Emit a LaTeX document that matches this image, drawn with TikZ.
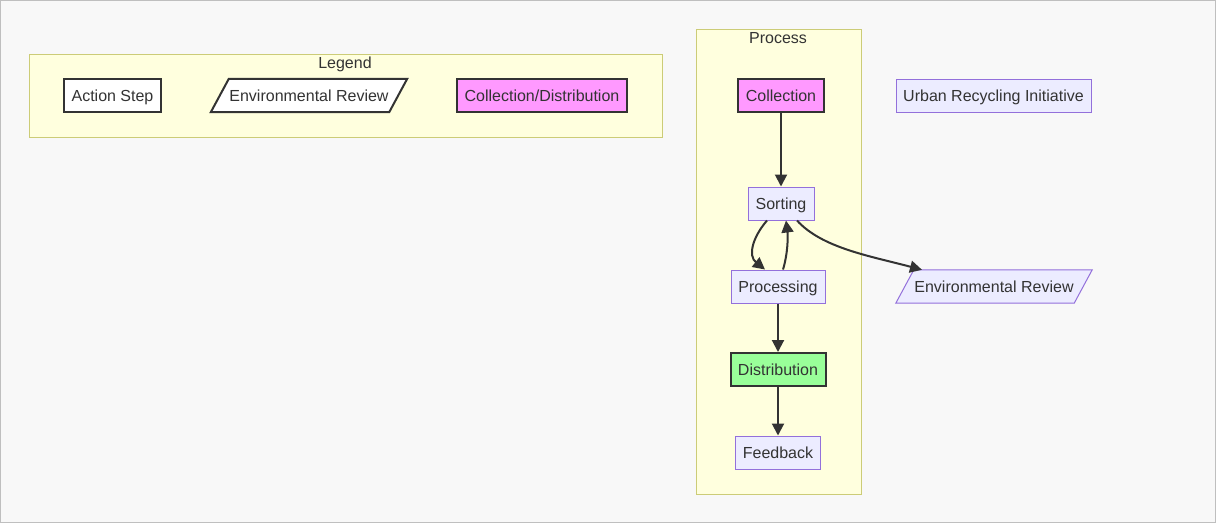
\documentclass[tikz,border=0pt]{standalone}
\usepackage{fontspec}
\setmainfont{Liberation Sans}
\usetikzlibrary{arrows.meta}
\definecolor{bg}{HTML}{F8F8F8}
\definecolor{clfill}{HTML}{FFFFDE}
\definecolor{cldraw}{HTML}{CCCC77}
\definecolor{txt}{HTML}{333333}
\definecolor{pinkf}{HTML}{FF99FF}
\definecolor{greenf}{HTML}{99FF99}
\definecolor{lavf}{HTML}{ECECFF}
\definecolor{lavd}{HTML}{9370DB}
\tikzset{
  x=1pt,y=-1pt,
  every node/.style={font=\fontsize{16}{19}\selectfont, text=txt, inner sep=0pt, text height=11.5pt, text depth=0pt},
  cluster/.style={draw=cldraw, fill=clfill, line width=1pt},
  plainbox/.style={draw=txt, fill=white, line width=2pt, minimum height=33pt},
  hotbox/.style={draw=txt, fill=pinkf, line width=2pt, minimum height=33pt},
  greenbox/.style={draw=txt, fill=greenf, line width=2pt, minimum height=33pt},
  lavbox/.style={draw=lavd, fill=lavf, line width=1pt, minimum height=33pt},
  ghost/.style={minimum height=33pt},
  conn/.style={draw=txt, line width=2pt, -{Triangle[length=12pt,width=12pt]}},
}
\begin{document}
\begin{tikzpicture}
\useasboundingbox (0,0) rectangle (1216,523);
\fill[bg] (0,0) rectangle (1216,523);
\draw[gray!50, line width=1pt] (0.5,0.5) rectangle (1215.5,522.5);
% clusters
\draw[cluster] (29,54) rectangle (662,137);
\node (legendt) at (345,63) {Legend};
\draw[cluster] (696,29) rectangle (861,494);
\node (processt) at (778,38) {Process};
% legend
\node[plainbox, minimum width=97pt] (la) at (112.5,95.5) {Action Step};
\node[ghost, minimum width=178pt] (le) at (309,95.5) {Environmental Review};
\draw[txt, fill=white, line width=2pt] ([xshift=9pt]le.north west) -- ([xshift=9pt]le.north east) -- ([xshift=-9pt]le.south east) -- ([xshift=-9pt]le.south west) -- cycle;
\node at (le.center) {Environmental Review};
\node[hotbox, minimum width=170pt] (lc) at (542,95.5) {Collection/Distribution};
% process
\node[hotbox, minimum width=86pt] (col) at (781,95.5) {Collection};
\node[lavbox, minimum width=66pt] (sor) at (781,203.5) {Sorting};
\node[lavbox, minimum width=94pt] (pro) at (778,286.5) {Processing};
\node[greenbox, minimum width=95pt] (dis) at (778,369.5) {Distribution};
\node[lavbox, minimum width=85pt] (fee) at (778,452.5) {Feedback};
\node[lavbox, minimum width=195pt] (uri) at (993.5,95.5) {Urban Recycling Initiative};
\node[ghost, minimum width=178pt] (env) at (994,286.5) {Environmental Review};
\draw[lavd, fill=lavf, line width=1pt] ([xshift=9pt]env.north west) -- ([xshift=9pt]env.north east) -- ([xshift=-9pt]env.south east) -- ([xshift=-9pt]env.south west) -- cycle;
\node at (env.center) {Environmental Review};
% connectors
\draw[conn] (col.south) -- (sor.north);
\draw[conn] ([xshift=-14pt]sor.south) .. controls (752,238) and (748,256) .. ([xshift=-13pt]pro.north);
\draw[conn] ([xshift=5pt]pro.north) .. controls (788,253) and (788,236) .. ([xshift=5pt]sor.south);
\draw[conn] ([xshift=16pt]sor.south) .. controls (822,248) and (870,256) .. ([xshift=-72pt]env.north);
\draw[conn] (pro.south) -- (dis.north);
\draw[conn] (dis.south) -- (fee.north);
\end{tikzpicture}
\end{document}
